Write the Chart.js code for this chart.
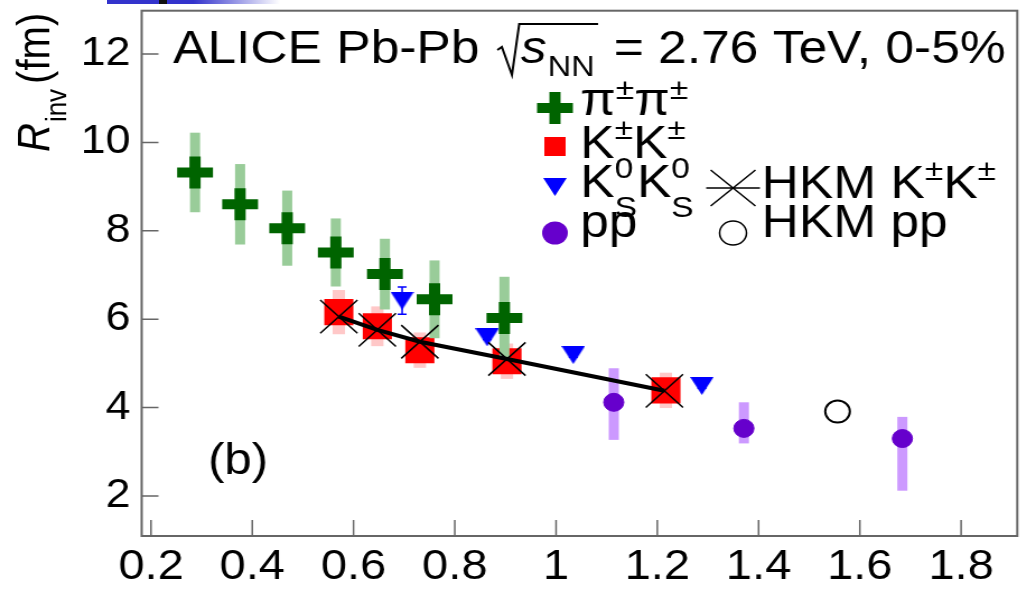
<!DOCTYPE html>
<html lang="en">
<head>
<meta charset="UTF-8">
<title>ALICE Pb-Pb R_inv</title>
<script src="https://cdn.jsdelivr.net/npm/chart.js"></script>
<style>
  body { margin: 0; background: #fff; overflow: hidden; }
  .topbar {
    position: absolute; left: 107px; top: 0; width: 173px; height: 4px; z-index: 2;
    background: linear-gradient(to right, #3333cc 0%, #3333cc 50%, #ffffff 100%);
  }
  .topbar span { position: absolute; left: 52px; top: 0; width: 8px; height: 4px; background: #111; }
  /* the figure is drawn narrow and stretched sideways */
  .wrap { position: absolute; left: 0; top: 0; width: 916px; height: 592px; transform: scaleX(1.12); transform-origin: 0 0; }
</style>
</head>
<body>
<div class="topbar"><span></span></div>
<div class="wrap"><canvas id="rinv" width="916" height="592"></canvas></div>

<script>
// pi+- pi+- radii
const pipiX = [0.287, 0.376, 0.469, 0.565, 0.662, 0.760, 0.898];
const pipiR = [9.32, 8.60, 8.06, 7.51, 7.02, 6.45, 6.03];
const pipiSys = [0.90, 0.91, 0.85, 0.77, 0.80, 0.88, 0.93];

// K+- K+- radii
const kkX = [0.571, 0.647, 0.731, 0.903, 1.217];
const kkR = [6.16, 5.84, 5.30, 5.05, 4.39];
const kkSys = [0.50, 0.45, 0.40, 0.40, 0.40];

// K0s K0s radii
const k0X = [0.696, 0.864, 1.034, 1.288];
const k0R = [6.42, 5.59, 5.19, 4.49];
const k0Err = [0.31, 0.05, 0.05, 0.05];

// pp radii
const ppX = [1.114, 1.371, 1.684];
const ppR = [4.12, 3.53, 3.30];
const ppSysUp = [0.77, 0.59, 0.49];
const ppSysDown = [0.85, 0.34, 1.18];

// HKM model
const hkmKX = [0.571, 0.647, 0.731, 0.903, 1.214];
const hkmKR = [6.06, 5.76, 5.49, 5.10, 4.38];
const hkmPpX = [1.556];
const hkmPpR = [3.91];

const xTicks = [0.2, 0.4, 0.6, 0.8, 1.0, 1.2, 1.4, 1.6, 1.8];
const xTickLabels = ['0.2', '0.4', '0.6', '0.8', '1', '1.2', '1.4', '1.6', '1.8'];
const yTicks = [2, 4, 6, 8, 10, 12];
const yTickLabels = ['2', '4', '6', '8', '10', '12'];

const FONT = '"Liberation Sans", Arial, Helvetica, sans-serif';
const GREEN = '#006400', RED = '#ff0000', BLUE = '#0000ff', PURPLE = '#6600cc';

function pts(xs, ys) {
  return xs.map((x, i) => ({ x: x, y: ys[i] }));
}

// downward triangle used as marker
function triangle(w, h, color) {
  const c = document.createElement('canvas');
  c.width = w; c.height = h;
  const g = c.getContext('2d');
  g.fillStyle = color;
  g.beginPath();
  g.moveTo(0, 0); g.lineTo(w, 0); g.lineTo(w / 2, h);
  g.closePath();
  g.fill();
  return c;
}
const triMarker = triangle(21, 18, BLUE);

// systematic boxes and stat bars, drawn just under each dataset's markers
const errorBoxes = {
  id: 'errorBoxes',
  beforeDatasetDraw(chart, args) {
    const ds = chart.data.datasets[args.index];
    const { ctx } = chart;
    const xs = chart.scales.x, ys = chart.scales.y;
    ctx.save();
    if (ds.sys) {
      ctx.fillStyle = ds.sys.color;
      ds.data.forEach((p, i) => {
        const px = xs.getPixelForValue(p.x);
        const top = ys.getPixelForValue(p.y + ds.sys.up[i]);
        const bot = ys.getPixelForValue(p.y - ds.sys.down[i]);
        ctx.fillRect(px - ds.sys.w / 2, top, ds.sys.w, bot - top);
      });
    }
    if (ds.stat) {
      ctx.strokeStyle = ds.stat.color;
      ctx.lineWidth = 1.5;
      ds.data.forEach((p, i) => {
        const px = xs.getPixelForValue(p.x);
        const top = ys.getPixelForValue(p.y + ds.stat.err[i]);
        const bot = ys.getPixelForValue(p.y - ds.stat.err[i]);
        ctx.beginPath();
        ctx.moveTo(px, top); ctx.lineTo(px, bot);
        ctx.moveTo(px - 4, top); ctx.lineTo(px + 4, top);
        ctx.moveTo(px - 4, bot); ctx.lineTo(px + 4, bot);
        ctx.stroke();
      });
    }
    ctx.restore();
  }
};

// draws text pieces one after another; stack:true keeps x for the next piece
function rich(ctx, x, y, parts) {
  parts.forEach(p => {
    ctx.font = (p.it ? 'italic ' : '') + p.s + 'px ' + FONT;
    ctx.fillText(p.t, x, y + (p.dy || 0));
    if (!p.stack) x += ctx.measureText(p.t).width + (p.gap || 0);
  });
  return x;
}

// frame, inward ticks, title, legend and labels
const decor = {
  id: 'decor',
  afterDraw(chart) {
    const { ctx, chartArea: a } = chart;
    const xs = chart.scales.x, ys = chart.scales.y;
    ctx.save();

    ctx.strokeStyle = '#666';
    ctx.lineWidth = 2;
    ctx.strokeRect(a.left, a.top, a.right - a.left, a.bottom - a.top);
    ctx.lineWidth = 1.5;
    ctx.beginPath();
    xTicks.forEach(v => {
      const px = xs.getPixelForValue(v);
      ctx.moveTo(px, a.bottom); ctx.lineTo(px, a.bottom - 16);
    });
    yTicks.forEach(v => {
      const py = ys.getPixelForValue(v);
      ctx.moveTo(a.left, py); ctx.lineTo(a.left + 15, py);
    });
    ctx.stroke();

    ctx.fillStyle = '#000';
    ctx.textBaseline = 'alphabetic';
    ctx.textAlign = 'left';

    // header
    let x = rich(ctx, 154.5, 62.7, [{ t: 'ALICE Pb-Pb', s: 46 }]);
    const r0 = x + 20;
    ctx.strokeStyle = '#000';
    ctx.lineWidth = 2;
    ctx.beginPath();
    ctx.moveTo(r0 - 4, 50); ctx.lineTo(r0, 47);
    ctx.lineTo(r0 + 9, 75); ctx.lineTo(r0 + 15.5, 24);
    x = rich(ctx, r0 + 17, 62.7, [{ t: 's', s: 46, it: true, gap: 1 }, { t: 'NN', s: 29, dy: 13 }]);
    ctx.lineTo(x + 3, 24);
    ctx.stroke();
    rich(ctx, x + 17, 62.7, [{ t: '= 2.76 TeV, 0-5%', s: 46 }]);

    // panel tag
    rich(ctx, 185.7, 473.5, [{ t: '(b)', s: 44 }]);

    // y axis title, rotated
    ctx.save();
    ctx.translate(44, 152);
    ctx.rotate(-Math.PI / 2);
    rich(ctx, 0, 0, [{ t: 'R', s: 40, it: true, gap: 1 }, { t: 'inv', s: 26, dy: 15, gap: 5 }, { t: '(fm)', s: 40 }]);
    ctx.restore();

    // legend markers
    const mx = 495.5, hx = 654.5;
    ctx.strokeStyle = GREEN; ctx.lineWidth = 10;
    ctx.beginPath();
    ctx.moveTo(mx - 16, 108); ctx.lineTo(mx + 16, 108);
    ctx.moveTo(mx, 92); ctx.lineTo(mx, 124);
    ctx.stroke();
    ctx.fillStyle = RED;
    ctx.fillRect(mx - 9.5, 137, 19, 19);
    ctx.drawImage(triMarker, mx - 10.5, 178);
    ctx.fillStyle = PURPLE;
    ctx.beginPath(); ctx.arc(mx, 233, 11.5, 0, Math.PI * 2); ctx.fill();
    ctx.strokeStyle = '#000'; ctx.lineWidth = 1.5;
    ctx.beginPath();
    ctx.moveTo(hx - 20, 170); ctx.lineTo(hx + 20, 206);
    ctx.moveTo(hx - 20, 206); ctx.lineTo(hx + 20, 170);
    ctx.moveTo(hx - 24, 188); ctx.lineTo(hx + 24, 188);
    ctx.stroke();
    ctx.beginPath(); ctx.arc(hx, 233, 12, 0, Math.PI * 2); ctx.stroke();

    // legend text
    ctx.fillStyle = '#000';
    const tx = 518, hx2 = 680;
    rich(ctx, tx, 115, [{ t: 'π', s: 46 }, { t: '±', s: 30, dy: -16 }, { t: 'π', s: 46 }, { t: '±', s: 30, dy: -16 }]);
    rich(ctx, tx, 158, [{ t: 'K', s: 46 }, { t: '±', s: 30, dy: -19 }, { t: 'K', s: 46 }, { t: '±', s: 30, dy: -19 }]);
    rich(ctx, tx, 197, [{ t: 'K', s: 46 }, { t: '0', s: 30, dy: -19, stack: true }, { t: 'S', s: 30, dy: 20 },
                        { t: 'K', s: 46 }, { t: '0', s: 30, dy: -19, stack: true }, { t: 'S', s: 30, dy: 20 }]);
    rich(ctx, tx, 237, [{ t: 'pp', s: 46 }]);
    rich(ctx, hx2, 198, [{ t: 'HKM K', s: 46 }, { t: '±', s: 30, dy: -18 }, { t: 'K', s: 46 }, { t: '±', s: 30, dy: -18 }]);
    rich(ctx, hx2, 237, [{ t: 'HKM pp', s: 46 }]);

    ctx.restore();
  }
};

new Chart(document.getElementById('rinv'), {
  type: 'scatter',
  data: {
    datasets: [
      {
        label: 'HKM K±K±',
        data: pts(hkmKX, hkmKR),
        showLine: true,
        borderColor: '#000',
        borderWidth: 4,
        pointStyle: 'crossRot',
        pointRadius: 23.5,
        pointBorderWidth: 1.5,
        pointBorderColor: '#000'
      },
      {
        label: 'π±π±',
        data: pts(pipiX, pipiR),
        pointStyle: 'cross',
        pointRadius: 16,
        pointBorderWidth: 10,
        pointBorderColor: GREEN,
        sys: { up: pipiSys, down: pipiSys, w: 9, color: '#99cc99' }
      },
      {
        label: 'K±K±',
        data: pts(kkX, kkR),
        pointStyle: 'rect',
        pointRadius: 18.4,
        pointBorderWidth: 0,
        pointBackgroundColor: RED,
        sys: { up: kkSys, down: kkSys, w: 11, color: '#ffc8c8' }
      },
      {
        label: 'K0sK0s',
        data: pts(k0X, k0R),
        pointStyle: triMarker,
        pointRadius: 10,
        stat: { err: k0Err, color: BLUE }
      },
      {
        label: 'pp',
        data: pts(ppX, ppR),
        pointStyle: 'circle',
        pointRadius: 9,
        pointBorderWidth: 1,
        pointBorderColor: PURPLE,
        pointBackgroundColor: PURPLE,
        sys: { up: ppSysUp, down: ppSysDown, w: 9, color: '#cc99ff' }
      },
      {
        label: 'HKM pp',
        data: pts(hkmPpX, hkmPpR),
        pointStyle: 'circle',
        pointRadius: 11,
        pointBorderWidth: 2,
        pointBorderColor: '#000',
        pointBackgroundColor: 'rgba(0,0,0,0)'
      }
    ]
  },
  options: {
    responsive: false,
    animation: false,
    events: [],
    layout: { autoPadding: false, padding: { top: 10.7, right: 7.7, left: 0, bottom: 0 } },
    plugins: { legend: { display: false }, tooltip: { enabled: false } },
    scales: {
      x: {
        type: 'linear',
        position: 'bottom',
        min: 0.1816,
        max: 1.911,
        afterBuildTicks: s => { s.ticks = xTicks.map(v => ({ value: v })); },
        afterFit: s => { s.height = 56; s.paddingLeft = 0; s.paddingRight = 0; },
        ticks: {
          autoSkip: false,
          maxRotation: 0,
          padding: 6,
          color: '#000',
          font: { family: FONT, size: 42 },
          callback: (v, i) => xTickLabels[i]
        },
        grid: { display: false, drawTicks: false },
        border: { display: false }
      },
      y: {
        type: 'linear',
        min: 1.095,
        max: 12.98,
        afterBuildTicks: s => { s.ticks = yTicks.map(v => ({ value: v })); },
        afterFit: s => { s.width = 126.5; s.paddingTop = 0; s.paddingBottom = 0; },
        ticks: {
          autoSkip: false,
          padding: 10,
          color: '#000',
          font: { family: FONT, size: 40 },
          callback: (v, i) => yTickLabels[i]
        },
        grid: { display: false, drawTicks: false },
        border: { display: false }
      }
    }
  },
  plugins: [errorBoxes, decor]
});
</script>
</body>
</html>
